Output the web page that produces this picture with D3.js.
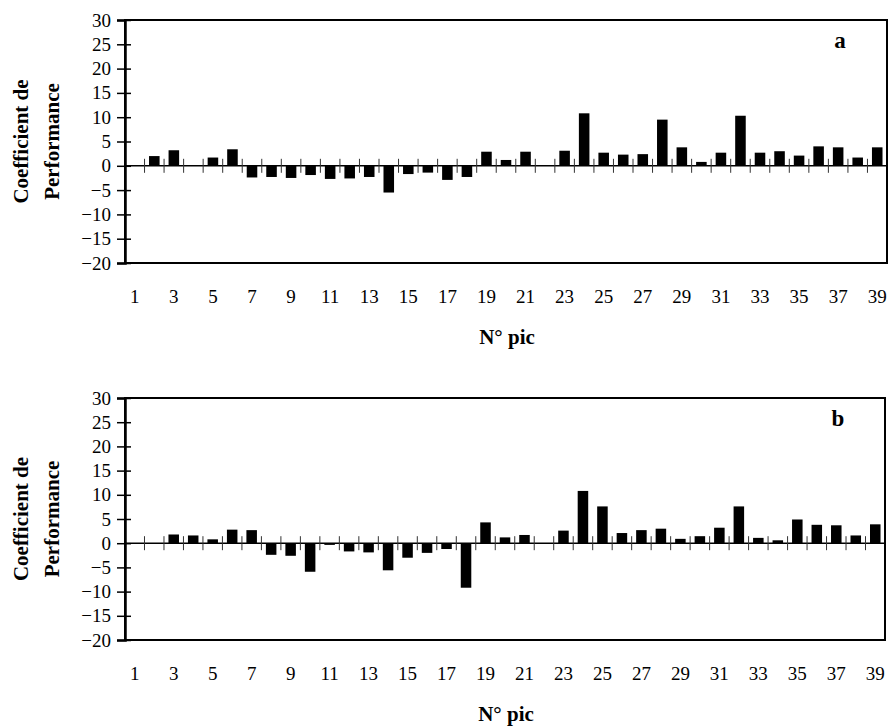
<!DOCTYPE html>
<html>
<head>
<meta charset="utf-8">
<script src="https://cdn.jsdelivr.net/npm/d3@7"></script>
<style>
  html, body { margin: 0; padding: 0; background: #fff; }
  svg { display: block; }
  svg text { font-family: "Liberation Serif", "DejaVu Serif", serif; fill: #000; }
</style>
</head>
<body>
<svg id="chart" width="889" height="726"></svg>
<script>
const categories = [1,2,3,4,5,6,7,8,9,10,11,12,13,14,15,16,17,18,19,20,21,22,23,24,25,26,27,28,29,30,31,32,33,34,35,36,37,38,39];
const tickLabels = [1,3,5,7,9,11,13,15,17,19,21,23,25,27,29,31,33,35,37,39];
const yTicks = [-20,-15,-10,-5,0,5,10,15,20,25,30];
const valuesA = [0,2.0,3.2,0,1.7,3.4,-2.4,-2.3,-2.5,-1.9,-2.7,-2.6,-2.3,-5.5,-1.7,-1.4,-2.9,-2.3,2.9,1.2,2.9,0,3.1,10.8,2.7,2.3,2.4,9.5,3.8,0.8,2.7,10.3,2.7,3.0,2.1,4.0,3.8,1.7,3.8];
const valuesB = [0,0,1.8,1.6,0.8,2.8,2.7,-2.4,-2.6,-5.9,-0.35,-1.7,-1.9,-5.6,-3.0,-2.0,-1.2,-9.2,4.3,1.2,1.7,0,2.6,10.8,7.6,2.1,2.7,3.0,0.9,1.45,3.2,7.6,1.1,0.6,4.9,3.8,3.7,1.6,3.9];
const panelLetters = ["a","b"];
const yTitle = ["Coefficient de","Performance"];
const xTitle = "N° pic";

const svg = d3.select("#chart");
const serif = "Liberation Serif, DejaVu Serif, serif";

function panel(values, letter, box) {
  const g = svg.append("g");
  const x = d3.scaleBand().domain(categories).range([box.left, box.right]).paddingInner(0.46).paddingOuter(0.23);
  const y = d3.scaleLinear().domain([-20, 30]).range([box.bottom, box.top]);
  const step = x.step();

  g.selectAll("rect.bar").data(values.map((v,i)=>({c:categories[i], v})).filter(d=>d.v!==0))
    .join("rect").attr("class","bar")
    .attr("x", d => x(d.c))
    .attr("width", x.bandwidth())
    .attr("y", d => y(Math.max(0, d.v)))
    .attr("height", d => Math.abs(y(d.v) - y(0)))
    .attr("fill", "#000");

  g.append("line").attr("x1", box.left).attr("x2", box.right)
    .attr("y1", y(0)).attr("y2", y(0)).attr("stroke","#000").attr("stroke-width",1.5);

  g.selectAll("line.ct").data(categories.slice(1))
    .join("line").attr("class","ct")
    .attr("x1", d => x(d) - step*0.23).attr("x2", d => x(d) - step*0.23)
    .attr("y1", y(0) - 7).attr("y2", y(0) + 7)
    .attr("stroke","#333").attr("stroke-width",1);

  g.append("rect").attr("x", box.left).attr("y", box.top)
    .attr("width", box.right - box.left).attr("height", box.bottom - box.top)
    .attr("fill","none").attr("stroke","#000").attr("stroke-width",2);

  const ax = g.append("g").attr("transform", `translate(${box.left},0)`)
    .call(d3.axisLeft(y).tickValues(yTicks).tickSize(8).tickPadding(6).tickFormat(d3.format("d")));
  ax.attr("font-family", null).attr("font-size", null);
  ax.select(".domain").attr("stroke-width",2.5);
  ax.selectAll(".tick line").attr("x2", 6).attr("x1", -8).attr("stroke-width",1.5);
  ax.selectAll("text").style("font-family", serif).style("font-size", "19px").attr("fill","#000");

  g.selectAll("text.xl").data(tickLabels).join("text").attr("class","xl")
    .attr("x", d => x(d) + x.bandwidth()/2)
    .attr("y", box.bottom + 40)
    .attr("text-anchor","middle")
    .style("font-family", serif).style("font-size", "19px")
    .text(d => d);

  g.append("text").attr("x", (box.left + box.right)/2 + 1).attr("y", box.bottom + 81)
    .attr("text-anchor","middle").style("font-family", serif).style("font-size", "21px")
    .style("font-weight","bold").text(xTitle);

  const cy = (box.top + box.bottom)/2;
  const yt = g.append("text").attr("transform", `translate(28,${cy}) rotate(-90)`)
    .attr("text-anchor","middle").style("font-family", serif).style("font-size", "21px")
    .style("font-weight","bold");
  yt.append("tspan").attr("x",0).attr("y",0).text(yTitle[0]);
  yt.append("tspan").attr("x",0).attr("y",31).text(yTitle[1]);

  g.append("text").attr("x", box.right - 47).attr("y", box.top + 28)
    .attr("text-anchor","middle").style("font-family", serif).style("font-size", "23px")
    .style("font-weight","bold").text(letter);
}

panel(valuesA, panelLetters[0], {left:125, right:887, top:20, bottom:263});
panel(valuesB, panelLetters[1], {left:125, right:885, top:398, bottom:640});
</script>
</body>
</html>
